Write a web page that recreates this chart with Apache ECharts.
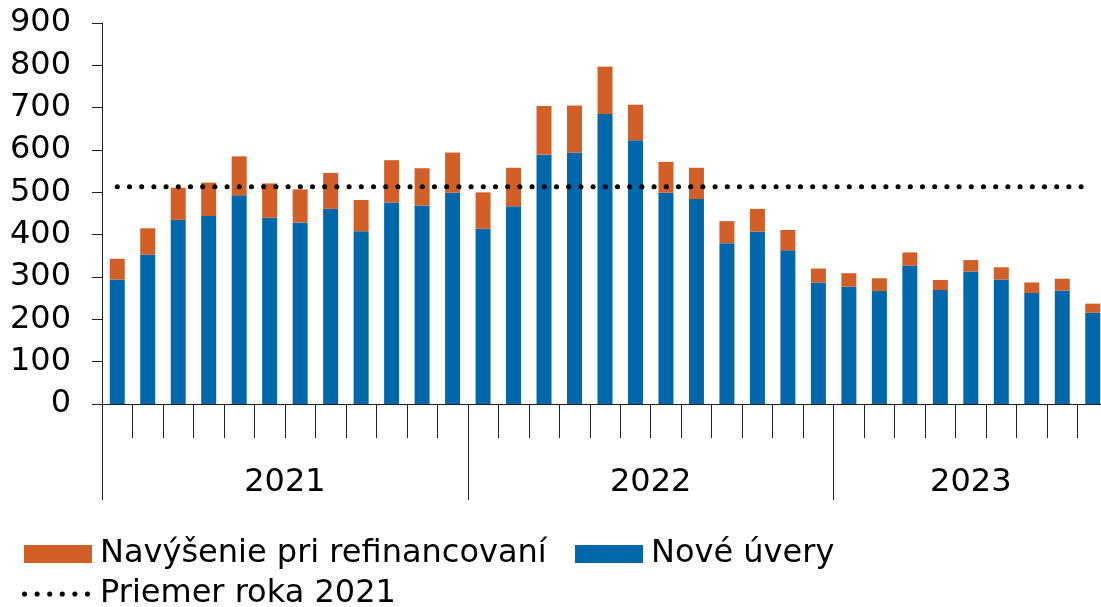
<!DOCTYPE html>
<html>
<head>
<meta charset="utf-8">
<script src="https://cdn.jsdelivr.net/npm/echarts@6/dist/echarts.min.js"></script>
<style>
  html, body { margin: 0; padding: 0; background: #fff; }
  #chart { width: 1101px; height: 607px; }
</style>
</head>
<body>
<div id="chart"></div>
<script>
// mesiace 01/2021 - 09/2023
var months = [
    '01/21', '02/21', '03/21', '04/21', '05/21', '06/21', '07/21', '08/21', '09/21', '10/21', '11/21', '12/21',
    '01/22', '02/22', '03/22', '04/22', '05/22', '06/22', '07/22', '08/22', '09/22', '10/22', '11/22', '12/22',
    '01/23', '02/23', '03/23', '04/23', '05/23', '06/23', '07/23', '08/23', '09/23'
];
var years = ['2021', '2022', '2023'];
// nove uvery
var noveUvery = [
    294, 353, 435, 444, 493, 440, 429, 461, 408, 476, 469, 499,
    414, 467, 589, 594, 685, 623, 499, 484, 380, 407, 363, 287,
    277, 267, 327, 269, 313, 294, 262, 268, 216
];
// navysenie pri refinancovani
var navysenie = [
    49, 62, 76, 79, 92, 81, 78, 85, 74, 100, 88, 95,
    86, 91, 115, 111, 112, 84, 73, 74, 52, 54, 48, 33,
    32, 30, 31, 24, 27, 29, 25, 28, 21
];
// priemer roka 2021
var priemer2021 = 513;
var priemerLine = months.map(function () { return priemer2021; });

var yearTicks = [0, 12, 24];
var yearLabelPos = [6, 18, 28.5];

var FONT = 'DejaVu Sans';
var FS = 32;
var textColor = '#000';
var axisColor = '#222';

// bodkovana ikona do legendy (6 bodiek)
var dotsIcon = 'path://';
for (var i = 0; i < 6; i++) {
    var cx = 2.5 + i * 12.3;
    dotsIcon += 'M' + (cx - 2.5) + ',2.5a2.5,2.5 0 1,0 5,0a2.5,2.5 0 1,0 -5,0Z';
}

var chart = echarts.init(document.getElementById('chart'));

var legendText = { fontSize: FS, color: textColor, fontFamily: FONT, padding: [0, 0, 0, 3] };

var option = {
    animation: false,
    textStyle: { fontFamily: FONT },
    grid: {
        left: 102,
        top: 23,
        width: 1006,
        height: 381,
        containLabel: false,
        outerBoundsMode: 'none'
    },
    legend: [{
        data: [{ name: 'Navýšenie pri refinancovaní', icon: 'rect' }],
        left: 24,
        top: 538,
        padding: 0,
        itemWidth: 68,
        itemHeight: 18,
        textStyle: legendText
    }, {
        data: [{ name: 'Nové úvery', icon: 'rect' }],
        left: 575,
        top: 538,
        padding: 0,
        itemWidth: 68,
        itemHeight: 18,
        textStyle: legendText
    }, {
        data: [{ name: 'Priemer roka 2021', icon: dotsIcon }],
        left: 22,
        top: 578,
        padding: 0,
        itemWidth: 68,
        itemHeight: 18,
        textStyle: { fontSize: FS, color: textColor, fontFamily: FONT, padding: [0, 0, 0, 5] }
    }],
    xAxis: [{
        type: 'category',
        data: months,
        position: 'bottom',
        boundaryGap: true,
        axisLine: { show: true, lineStyle: { color: axisColor, width: 1 } },
        axisTick: { show: true, interval: 0, length: 34, lineStyle: { color: axisColor, width: 1 } },
        axisLabel: { show: false },
        splitLine: { show: false }
    }, {
        type: 'value',
        min: 0,
        max: 33,
        position: 'bottom',
        axisLine: { show: false },
        axisTick: {
            show: true,
            customValues: yearTicks,
            length: 96,
            lineStyle: { color: axisColor, width: 1 }
        },
        axisLabel: {
            show: true,
            customValues: yearLabelPos,
            formatter: function (v) {
                var i = yearLabelPos.indexOf(v);
                return i >= 0 ? years[i] : '';
            },
            margin: 63,
            fontSize: FS,
            color: textColor,
            fontFamily: FONT
        },
        splitLine: { show: false }
    }],
    yAxis: {
        type: 'value',
        min: 0,
        max: 900,
        interval: 100,
        axisLine: { show: true, lineStyle: { color: axisColor, width: 1 } },
        axisTick: { show: true, length: 10, lineStyle: { color: axisColor, width: 1 } },
        axisLabel: { fontSize: FS, color: textColor, fontFamily: FONT, margin: 31 },
        splitLine: { show: false }
    },
    series: [{
        name: 'Nové úvery',
        type: 'bar',
        stack: 'spolu',
        barWidth: 15,
        data: noveUvery,
        itemStyle: { color: '#0067ab' }
    }, {
        name: 'Navýšenie pri refinancovaní',
        type: 'bar',
        stack: 'spolu',
        barWidth: 15,
        data: navysenie,
        itemStyle: { color: '#d35f28' }
    }, {
        name: 'Priemer roka 2021',
        type: 'line',
        data: priemerLine,
        symbol: 'none',
        z: 5,
        lineStyle: { color: '#000', width: 5, type: [0.1, 12.1], cap: 'round' },
        itemStyle: { color: '#000' }
    }]
};

chart.setOption(option);
</script>
</body>
</html>
